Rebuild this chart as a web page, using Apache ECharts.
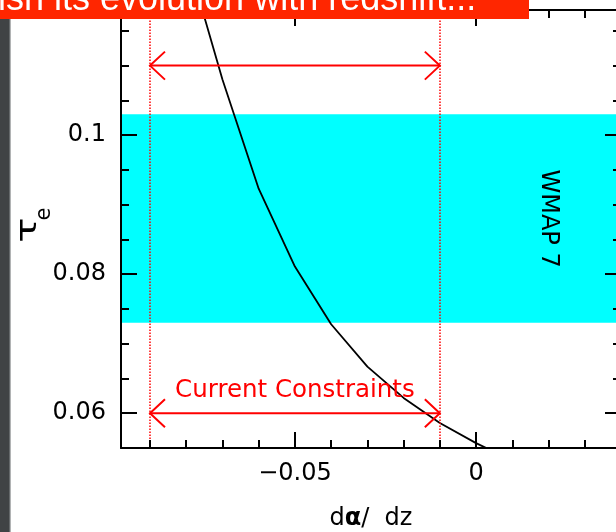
<!DOCTYPE html>
<html>
<head>
<meta charset="utf-8">
<script src="https://cdn.jsdelivr.net/npm/echarts@6/dist/echarts.min.js"></script>
<style>
  html, body { margin: 0; padding: 0; background: #ffffff; }
  #chart { width: 616px; height: 532px; }
</style>
</head>
<body>
<div id="chart"></div>
<script>
// Optical depth to reionization versus the drift of the fine-structure constant
const slopeValues = [-0.08, -0.07, -0.06, -0.05, -0.04, -0.03, -0.02, -0.01, 0, 0.01];
const tauValues   = [0.126, 0.108, 0.0923, 0.0811, 0.0728, 0.0667, 0.0622, 0.0586, 0.0557, 0.0532];

// WMAP 7-year band: tau = 0.088 +/- 0.015
const wmapBand = [0.073, 0.103];
const wmapLabel = 'WMAP 7';
const wmapLabelAt = [0.02, 0.088];

// Present bounds on d(alpha)/dz, drawn as double arrows
const constraintRange = [-0.09, -0.01];
const arrowLevels = [0.11, 0.06];
const constraintLabel = 'Current Constraints';

// Axis ranges and ticks
const xRange = [-0.098, 0.04];
const yRange = [0.055, 0.118];
const xMajorTicks = [-0.05, 0];
const xTickLabels = ['\u22120.05', '0'];
const xMinorTicks = [-0.09, -0.08, -0.07, -0.06, -0.04, -0.03, -0.02, -0.01, 0.01, 0.02, 0.03];
const yMajorTicks = [0.06, 0.08, 0.1];
const yTickLabels = ['0.06', '0.08', '0.1'];
const yMinorTicks = [0.065, 0.07, 0.075, 0.085, 0.09, 0.095, 0.105, 0.11, 0.115];

const bannerText = 'ish its evolution with redshift...';

const FONT = '"DejaVu Sans", sans-serif';

function pickLabel(ticks, labels) {
  return function (v) {
    for (let i = 0; i < ticks.length; i++) {
      if (Math.abs(ticks[i] - v) < 1e-9) return labels[i];
    }
    return '';
  };
}

function makeAxis(kind, position, ticks, len, withLine, labels) {
  const range = kind === 'x' ? xRange : yRange;
  const tickList = kind === 'x' ? (labels ? xMajorTicks : null) : (labels ? yMajorTicks : null);
  return {
    type: 'value',
    gridIndex: 0,
    position: position,
    offset: 0,
    min: range[0],
    max: range[1],
    z: 10,
    splitLine: { show: false },
    axisLine: { show: withLine, onZero: false, lineStyle: { color: '#000', width: 2 } },
    axisTick: {
      show: true, inside: true, length: len,
      customValues: ticks,
      lineStyle: { color: '#000', width: 2 }
    },
    axisLabel: labels ? {
      show: true,
      customValues: tickList,
      formatter: pickLabel(tickList, labels),
      color: '#000',
      fontFamily: FONT,
      fontSize: 24,
      margin: kind === 'x' ? 14 : 15
    } : { show: false }
  };
}

const chart = echarts.init(document.getElementById('chart'), null, { renderer: 'canvas' });

const xAxes = [
  makeAxis('x', 'bottom', xMajorTicks, 16, true, xTickLabels),
  makeAxis('x', 'bottom', xMinorTicks, 8, false, null),
  makeAxis('x', 'top', xMajorTicks, 16, true, null),
  makeAxis('x', 'top', xMinorTicks, 8, false, null)
];
xAxes[0].name = '{n|d}{a|\u03b1}{n|/  dz}';
xAxes[0].nameLocation = 'middle';
xAxes[0].nameGap = 59;
xAxes[0].nameTextStyle = {
  rich: {
    n: { fontFamily: FONT, fontSize: 24, color: '#000' },
    a: { fontFamily: FONT, fontSize: 24, fontWeight: 'bold', color: '#000' }
  }
};

const yAxes = [
  makeAxis('y', 'left', yMajorTicks, 16, true, yTickLabels),
  makeAxis('y', 'left', yMinorTicks, 8, false, null),
  makeAxis('y', 'right', yMajorTicks, 16, true, null),
  makeAxis('y', 'right', yMinorTicks, 8, false, null)
];

const curveData = slopeValues.map((x, i) => [x, tauValues[i]]);
const arrowData = arrowLevels.map(y => [constraintRange[0], constraintRange[1], y]);

function renderArrow(params, api) {
  const y = api.value(2);
  const p1 = api.coord([api.value(0), y]);
  const p2 = api.coord([api.value(1), y]);
  const head = 15, spread = 14;
  const style = { stroke: '#ff0000', lineWidth: 2, fill: null };
  return {
    type: 'group',
    children: [
      { type: 'line', shape: { x1: p1[0], y1: p1[1], x2: p2[0], y2: p2[1] }, style: style },
      { type: 'polyline', shape: { points: [[p1[0] + head, p1[1] - spread], [p1[0], p1[1]], [p1[0] + head, p1[1] + spread]] }, style: style },
      { type: 'polyline', shape: { points: [[p2[0] - head, p2[1] - spread], [p2[0], p2[1]], [p2[0] - head, p2[1] + spread]] }, style: style }
    ]
  };
}

function renderNotes(params, api) {
  const cMid = api.coord([(constraintRange[0] + constraintRange[1]) / 2, arrowLevels[1]]);
  const w = api.coord(wmapLabelAt);
  return {
    type: 'group',
    children: [
      {
        type: 'text',
        x: cMid[0], y: cMid[1] - 23,
        style: { text: constraintLabel, fill: '#ff0000', font: '24.5px ' + FONT, align: 'center', verticalAlign: 'middle' }
      },
      {
        type: 'text',
        x: w[0], y: w[1],
        rotation: -Math.PI / 2,
        style: { text: wmapLabel, fill: '#000', font: '24px ' + FONT, align: 'center', verticalAlign: 'middle' }
      }
    ]
  };
}

chart.setOption({
  backgroundColor: '#ffffff',
  animation: false,
  grid: { left: 121, top: 10, width: 500, height: 438, containLabel: false, outerBoundsMode: 'none' },
  xAxis: xAxes,
  yAxis: yAxes,
  graphic: [
    { type: 'rect', z: 100, shape: { x: 0, y: 0, width: 10, height: 532 }, style: { fill: '#404345' } },
    { type: 'rect', z: 100, shape: { x: 9, y: 0, width: 1.5, height: 532 }, style: { fill: '#65696b' } },
    { type: 'rect', z: 101, shape: { x: 0, y: 0, width: 529, height: 19 }, style: { fill: '#ff2600' } },
    {
      type: 'text', z: 102, x: -2, y: 0,
      style: { text: bannerText, fill: '#ffffff', font: '36px "Liberation Sans", Arial, sans-serif', align: 'left', verticalAlign: 'middle' }
    },
    {
      type: 'text', z: 50, x: 29, y: 230, rotation: Math.PI / 2, scaleX: 1.5,
      style: { text: '\u03c4', fill: '#000', font: '28px ' + FONT, align: 'center', verticalAlign: 'middle' }
    },
    {
      type: 'text', z: 50, x: 45, y: 214, rotation: Math.PI / 2,
      style: { text: 'e', fill: '#000', font: '21px ' + FONT, align: 'center', verticalAlign: 'middle' }
    }
  ],
  series: [
    {
      type: 'line',
      xAxisIndex: 0, yAxisIndex: 0,
      data: curveData,
      showSymbol: false,
      symbol: 'none',
      clip: true,
      lineStyle: { color: '#000', width: 1.8 },
      markArea: {
        silent: true,
        itemStyle: { color: '#00ffff', opacity: 1 },
        data: [[{ yAxis: wmapBand[0] }, { yAxis: wmapBand[1] }]]
      },
      markLine: {
        silent: true,
        symbol: ['none', 'none'],
        label: { show: false },
        lineStyle: { color: '#ff0000', width: 1.5, type: [1.5, 1.5] },
        data: constraintRange.map(v => ({ xAxis: v }))
      },
      z: 3
    },
    {
      type: 'custom',
      xAxisIndex: 0, yAxisIndex: 0,
      data: arrowData,
      encode: { x: [0, 1], y: 2 },
      renderItem: renderArrow,
      silent: true,
      z: 4
    },
    {
      type: 'custom',
      xAxisIndex: 0, yAxisIndex: 0,
      data: [[wmapLabelAt[0], wmapLabelAt[1]]],
      encode: { x: 0, y: 1 },
      renderItem: renderNotes,
      silent: true,
      z: 4
    }
  ]
});
</script>
</body>
</html>
